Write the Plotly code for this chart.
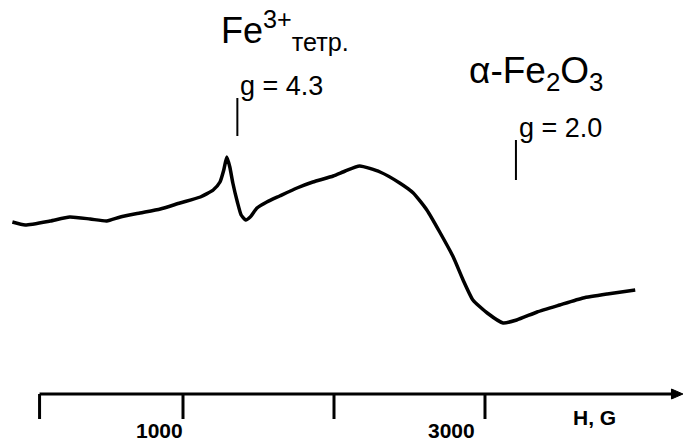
import plotly.graph_objects as go

# EPR spectrum
field_G = [-130, -45, 120, 250, 385, 495, 585, 715, 850, 980, 1115, 1200, 1245, 1270,
           1290, 1310, 1330, 1360, 1385, 1415, 1445, 1490, 1555, 1640, 1755, 1860,
           1995, 2075, 2170, 2305, 2435, 2525, 2615, 2700, 2790, 2855, 2920, 3015,
           3120, 3210, 3345, 3495, 3650, 3810, 3995]
signal = [78, 75, 79, 83, 81, 79, 83, 87, 91, 97, 103, 110, 118, 130,
          143, 133, 117, 98, 85, 80, 83, 92, 98, 104, 112, 118,
          124, 129, 134, 128, 117, 107, 90, 68, 43, 20, 0, -13,
          -23, -20, -12, -5, 2, 6, 10]

tick_vals = [50, 1000, 2000, 3000]
tick_labels = ["", "1000", "", "3000"]
axis_title = "H, G"

g_fields = [1360, 3205]
g_labels = ["g = 4.3", "g = 2.0"]
g_line_top = [202, 160]
g_line_bot = [164, 120]

X_RANGE = [-212, 4318]
Y_RANGE = [-141, 300]
AXIS_Y = -94
TICK_Y = -119
AXIS_END = 4265
ARROW_TIP = 4311

FONT = "Liberation Sans, Arial, sans-serif"

fig = go.Figure()
fig.add_trace(go.Scatter(x=field_G, y=signal, mode="lines",
                         line=dict(color="black", width=3.5, shape="spline", smoothing=0.5),
                         hoverinfo="skip", showlegend=False))

shapes = []
shapes.append(dict(type="line", xref="x", yref="y", x0=tick_vals[0], x1=AXIS_END,
                   y0=AXIS_Y, y1=AXIS_Y, line=dict(color="black", width=3)))
shapes.append(dict(type="path", xref="x", yref="y",
                   path=f"M {AXIS_END-30} {AXIS_Y+5} L {ARROW_TIP} {AXIS_Y} L {AXIS_END-30} {AXIS_Y-5} Z",
                   fillcolor="black", line=dict(color="black", width=1)))
for tv in tick_vals:
    shapes.append(dict(type="line", xref="x", yref="y", x0=tv, x1=tv,
                       y0=AXIS_Y, y1=TICK_Y, line=dict(color="black", width=3)))
for gf, yt, yb in zip(g_fields, g_line_top, g_line_bot):
    shapes.append(dict(type="line", xref="x", yref="y", x0=gf, x1=gf,
                       y0=yt, y1=yb, line=dict(color="black", width=2)))

annotations = []
shifts = {"1000": 2, "3000": -8}
for tv, tl in zip(tick_vals, tick_labels):
    if tl:
        annotations.append(dict(x=tv, y=-130, xref="x", yref="y", text="<b>" + tl + "</b>",
                                xanchor="right", yanchor="middle", showarrow=False,
                                xshift=shifts[tl],
                                font=dict(family=FONT, size=21, color="black")))
annotations.append(dict(x=3570, y=-117, xref="x", yref="y", text="<b>" + axis_title + "</b>",
                        xanchor="left", yanchor="middle", showarrow=False,
                        font=dict(family=FONT, size=21, color="black")))
for gf, gl, yt in zip(g_fields, g_labels, g_line_top):
    annotations.append(dict(x=gf, y=yt + 12, xref="x", yref="y", text=gl,
                            xanchor="left", yanchor="middle", showarrow=False, xshift=1,
                            font=dict(family=FONT, size=27, color="black")))
annotations.append(dict(x=1258, y=270, xref="x", yref="y",
                        text="Fe<sup>3+</sup><sub>тетр.</sub>",
                        xanchor="left", yanchor="middle", showarrow=False, xshift=-3,
                        font=dict(family=FONT, size=36, color="black")))
annotations.append(dict(x=2901, y=227, xref="x", yref="y",
                        text="α-Fe<sub>2</sub>O<sub>3</sub>",
                        xanchor="left", yanchor="middle", showarrow=False, xshift=-3,
                        font=dict(family=FONT, size=37, color="black")))

fig.update_layout(width=684, height=441, margin=dict(l=0, r=0, t=0, b=0),
                  paper_bgcolor="white", plot_bgcolor="white",
                  xaxis=dict(range=X_RANGE, visible=False),
                  yaxis=dict(range=Y_RANGE, visible=False),
                  shapes=shapes, annotations=annotations, showlegend=False)
fig.write_html("out.html")
